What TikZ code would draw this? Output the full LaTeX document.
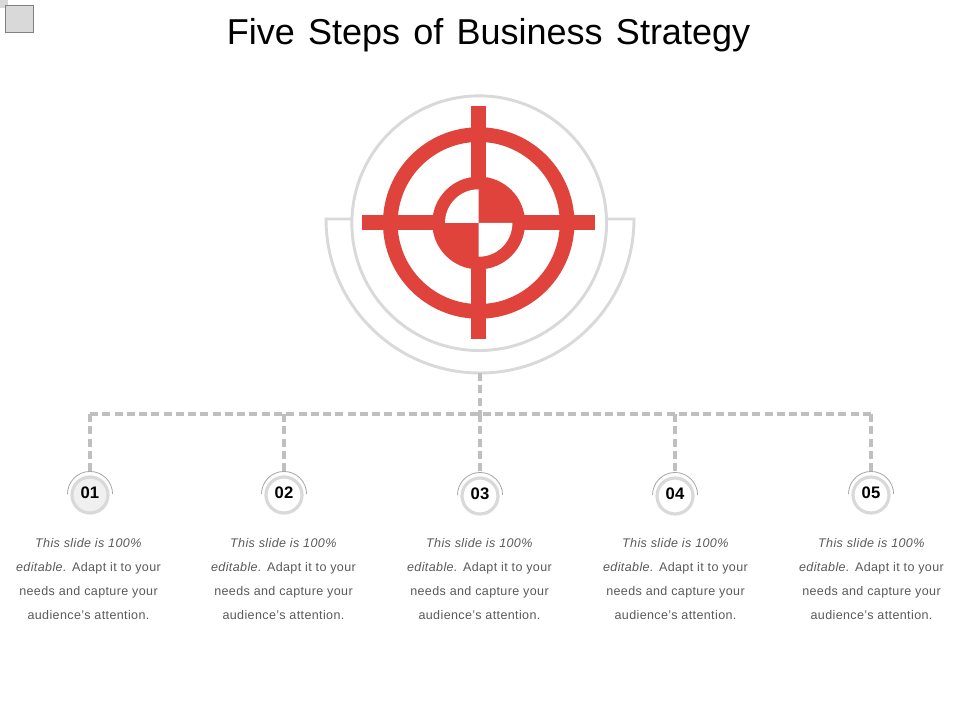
\documentclass[tikz,border=0pt]{standalone}
\usepackage{fontspec}
\setmainfont{Liberation Sans}
\newfontfamily\bodyfont[LetterSpace=3]{Liberation Sans}
\definecolor{ringgrey}{HTML}{D9D9D9}
\definecolor{dashgrey}{HTML}{BFBFBF}
\definecolor{targetred}{HTML}{E0433B}
\definecolor{bodygrey}{HTML}{595959}
\tikzset{
  x=0.75pt,y=-0.75pt,
  halo/.style={draw=ringgrey,line width=2.2pt},
  link/.style={draw=dashgrey,line width=2.7pt,dash pattern=on 6pt off 3.2pt},
  stepring/.style={circle,draw=ringgrey,line width=2.4pt,fill=white,minimum size=27pt,inner sep=0pt},
  stepcap/.style={draw=gray!70,line width=0.6pt},
  blurb/.style={align=center,text=bodygrey,font=\bodyfont\fontsize{9.4}{18}\selectfont,inner sep=0pt},
}
\newcommand{\blurbtext}{\textit{This slide is 100\%}\\\textit{editable.} Adapt it to your\\needs and capture your\\audience’s attention.}
\begin{document}
\begin{tikzpicture}
\useasboundingbox (0,0) rectangle (960,720);
% title and corner marks
\node[font=\fontsize{27}{27}\selectfont,text=black,inner sep=0pt,anchor=center] (title) at (488.5,35.5) {Five\hspace{0.09em} Steps\hspace{0.09em} of\hspace{0.09em} Business\hspace{0.09em} Strategy};
\fill[ringgrey] (0,0) rectangle (8,8);
\draw[fill=ringgrey,draw=gray,line width=0.75pt] (5.5,5.5) rectangle (33.5,33);
% outer cradle
\draw[halo] (351,219) -- (326,219) arc[start angle=180,end angle=360,radius=115.5pt] -- (608,219);
\coordinate (cradle) at (480,373);
% halo circle
\node[circle,halo,fill=white,minimum size=191pt,inner sep=0pt] (halo) at (479.2,223.2) {};
% cross-hair
\fill[targetred,even odd rule] (478.7,223) circle[radius=71.8pt] (478.7,223) circle[radius=60.8pt];
\fill[targetred] (471,106) rectangle (485.7,339);
\fill[targetred] (362,215) rectangle (595,230);
\fill[targetred] (478.7,223) circle[radius=34.8pt];
\fill[white] (478.7,223) -- (445,223) arc[start angle=180,end angle=90,radius=25.3pt] -- cycle;
\fill[white] (478.7,223) -- (512.4,223) arc[start angle=0,end angle=-90,radius=25.3pt] -- cycle;
% connectors
\coordinate (bus1) at (90,414);
\coordinate (bus2) at (284,414);
\coordinate (bus3) at (480,414);
\coordinate (bus4) at (675,414);
\coordinate (bus5) at (871,414);
\coordinate (top1) at (90,472);
\coordinate (top2) at (284,472);
\coordinate (top3) at (480,473);
\coordinate (top4) at (675,473);
\coordinate (top5) at (871,472);
\draw[link] (bus1) -- (bus5);
\draw[link] (cradle) -- (bus3);
\foreach \i in {1,...,5} \draw[link] (bus\i) -- (top\i);
% step badges
\foreach \i/\x/\y/\f/\t in {1/90/495/F0F0F0/01,2/284/495/FFFFFF/02,3/480/496/FFFFFF/03,4/675/496/FFFFFF/04,5/871/495/FFFFFF/05}{
  \definecolor{stepfill}{HTML}{\f}
  \node[stepring,fill=stepfill] (n\i) at (\x,\y) {};
  \draw[stepcap] (\x-22.5,\y-1) arc[start angle=180,end angle=0,radius=16.9pt];
  \node[font=\fontsize{12.5}{12.5}\selectfont\bfseries,text=black,inner sep=0pt] (num\i) at (\x,\y-2) {\t};
}
% descriptions
\node[blurb] (d1) at (88.5,579) {\blurbtext};
\node[blurb] (d2) at (283.5,579) {\blurbtext};
\node[blurb] (d3) at (479.5,579) {\blurbtext};
\node[blurb] (d4) at (675.5,579) {\blurbtext};
\node[blurb] (d5) at (871.5,579) {\blurbtext};
\end{tikzpicture}
\end{document}
